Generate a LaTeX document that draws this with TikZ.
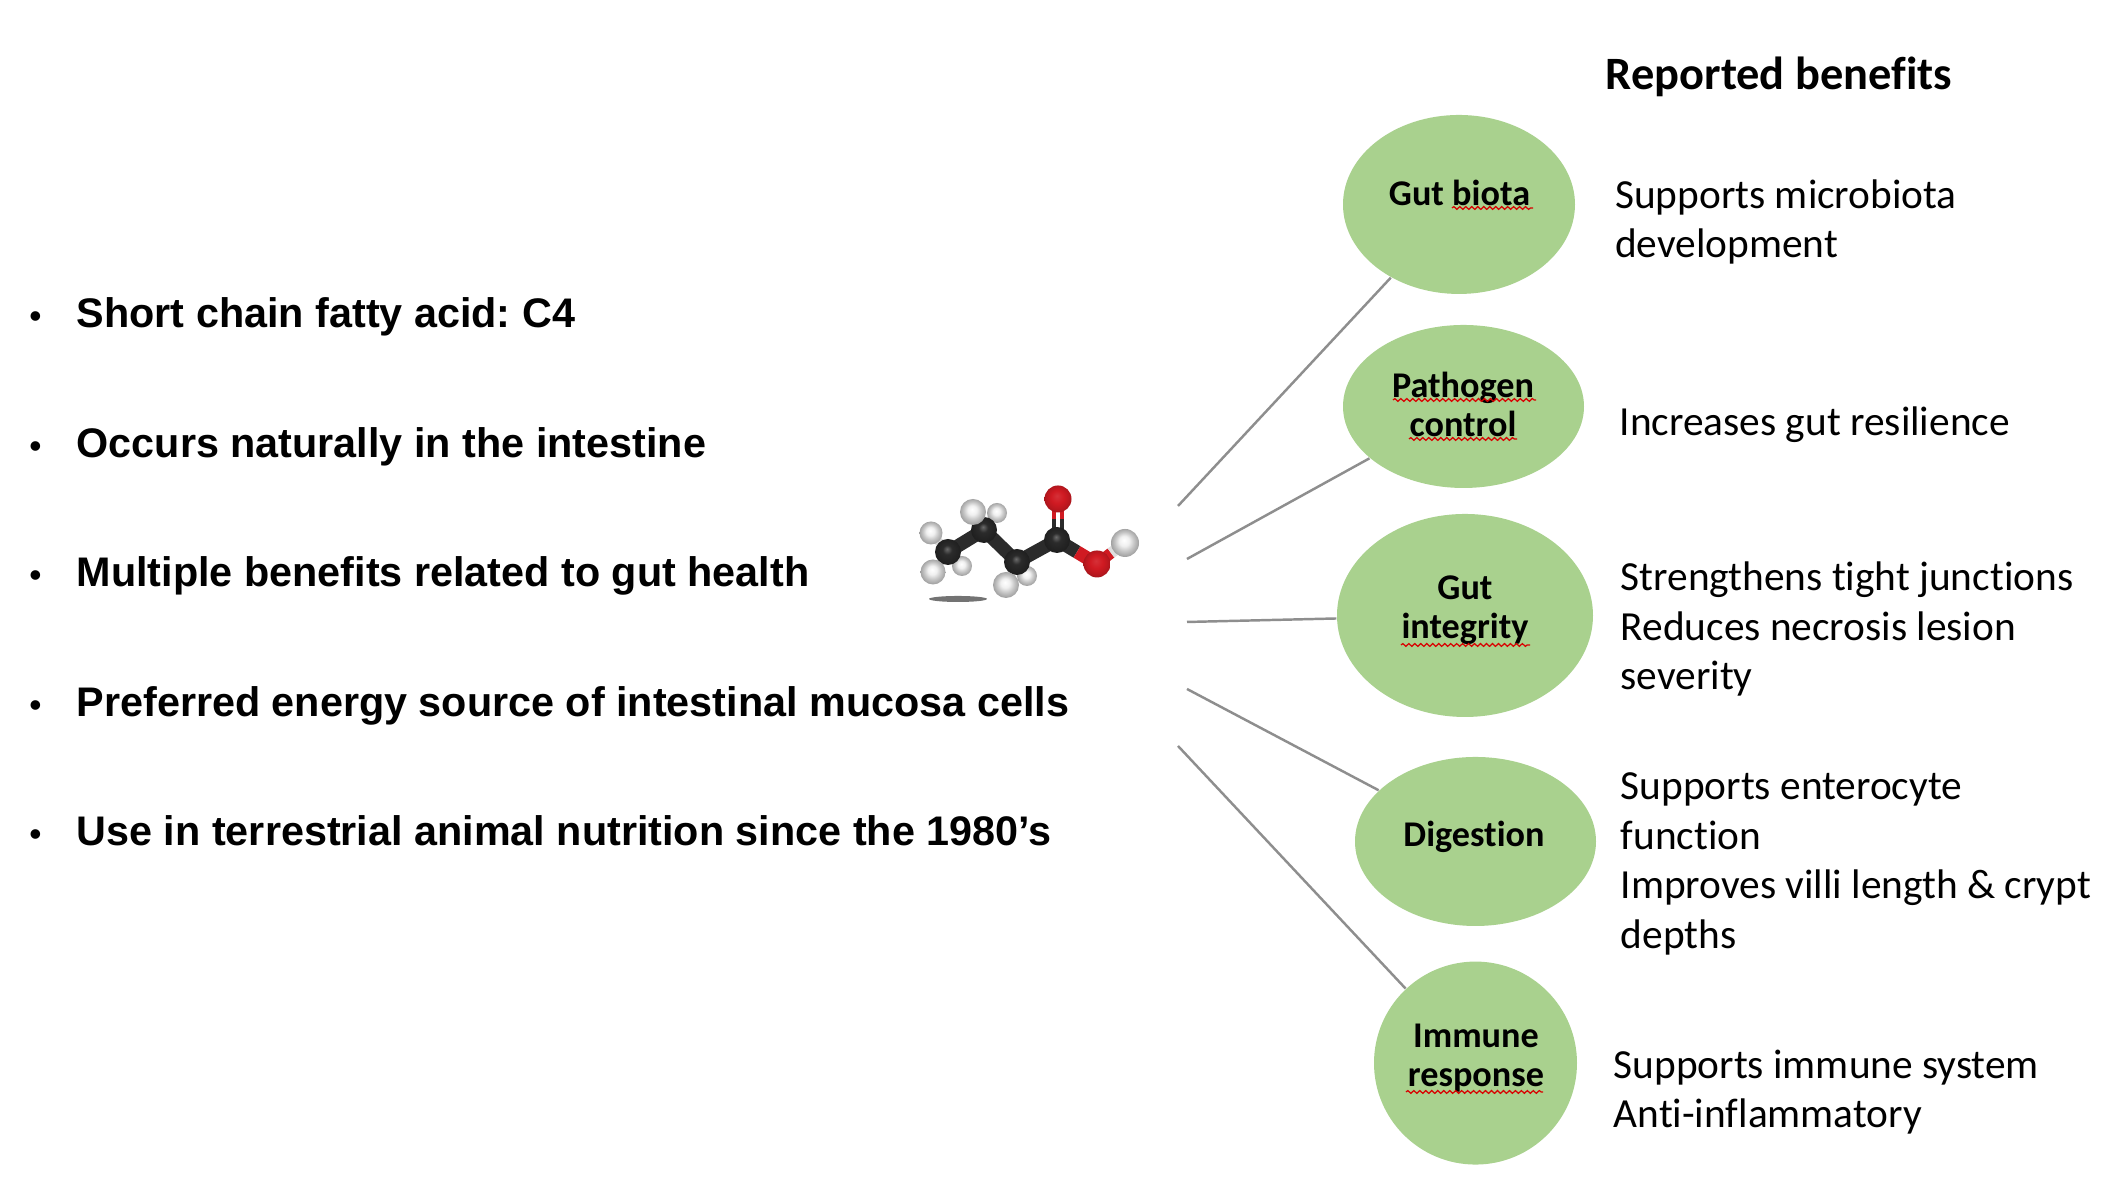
\documentclass[tikz,border=0pt]{standalone}
\usepackage{fontspec}
\setmainfont{Carlito}[Ligatures=NoCommon]
\newfontfamily\factfont{Liberation Sans}
\usetikzlibrary{shapes.geometric,decorations.pathmorphing}
\definecolor{benefitgreen}{HTML}{A9D18E}
\definecolor{linkgray}{HTML}{8E8E8E}
\definecolor{carbon}{HTML}{2B2B2B}
\definecolor{oxygen}{HTML}{D01A22}
\pgfdeclareradialshading{hball}{\pgfpoint{-2bp}{5bp}}{color(0bp)=(white); color(9bp)=(white!94!black); color(17bp)=(gray!45); color(24bp)=(gray!70); color(32bp)=(gray)}
\pgfdeclareradialshading{oball}{\pgfpoint{-2bp}{6bp}}{color(0bp)=(oxygen!90!white); color(12bp)=(oxygen); color(22bp)=(oxygen!88!black); color(32bp)=(oxygen!65!black)}
\pgfdeclareradialshading{cball}{\pgfpoint{-2bp}{6bp}}{color(0bp)=(black!58); color(9bp)=(carbon); color(32bp)=(black!90)}
\tikzset{
 benefit/.style={ellipse,fill=benefitgreen,inner sep=0pt},
 tag/.style={align=center,inner sep=0pt,font=\fontsize{10.3}{11.2}\selectfont\bfseries},
 effect/.style={anchor=west,align=left,inner sep=0pt,font=\fontsize{11.77}{14.05}\selectfont},
 fact/.style={anchor=base west,inner sep=0pt,font=\factfont\fontsize{11.76}{13}\selectfont\bfseries},
 link/.style={draw=linkgray,line width=0.7pt},
 squiggle/.style={draw=red!85!black,line width=0.35pt,decorate,decoration={snake,amplitude=0.4pt,segment length=1.7pt}}
}
\begin{document}
\frenchspacing
\begin{tikzpicture}
 \useasboundingbox (0,0) rectangle (21.26,12.02);

 \foreach \y/\txt [count=\i] in {8.74/Short chain fatty acid: C4,7.446/Occurs naturally in the intestine,6.15/Multiple benefits related to gut health,4.85/Preferred energy source of intestinal mucosa cells,3.56/Use in terrestrial animal nutrition since the 1980’s}
  \node[fact] (fact\i) at (0.29,\y) {\makebox[0.47cm][l]{\fontsize{9.5}{13}\selectfont•}\txt};

 % molecule
 \fill[black!55] (9.58,6.03) ellipse (0.29 and 0.03);
 \foreach \x/\y/\r in {9.97/6.89/0.10,9.62/6.36/0.10,10.27/6.26/0.10}
  \shade[shading=hball] (\x,\y) circle (\r);
 \draw[line width=2.4pt,gray!30] (9.48,6.50) -- (9.31,6.69) (9.48,6.50) -- (9.33,6.30) (9.84,6.72) -- (9.73,6.90) (10.17,6.40) -- (10.06,6.17);
 \draw[line width=3.8pt,carbon] (9.48,6.50) -- (9.84,6.72) -- (10.17,6.40) -- (10.57,6.62);
 \draw[line width=3.8pt,carbon] (10.57,6.62) -- (10.77,6.50);
 \draw[line width=3.8pt,oxygen] (10.77,6.50) -- (10.97,6.38);
 \draw[line width=1.3pt,carbon] (10.54,6.62) -- (10.54,6.83) (10.62,6.62) -- (10.62,6.83);
 \draw[line width=1.3pt,oxygen] (10.54,6.83) -- (10.54,7.03) (10.62,6.83) -- (10.62,7.03);
 \draw[line width=3.2pt,oxygen] (10.97,6.38) -- (11.11,6.49);
 \draw[line width=3.2pt,gray!25] (11.11,6.49) -- (11.25,6.59);
 \foreach \x/\y in {9.48/6.50,9.84/6.72,10.17/6.40,10.57/6.62}
  \shade[shading=cball] (\x,\y) circle (0.13);
 \foreach \x/\y in {10.58/7.03,10.97/6.38}
  \shade[shading=oball] (\x,\y) circle (0.135);
 \foreach \x/\y/\r in {9.31/6.69/0.115,9.33/6.30/0.125,9.73/6.90/0.13,10.06/6.17/0.13,11.25/6.59/0.14}
  \shade[shading=hball] (\x,\y) circle (\r);

 % benefits
 \node[benefit,minimum width=2.32cm,minimum height=1.79cm] (biota) at (14.59,9.975) {};
 \node[benefit,minimum width=2.41cm,minimum height=1.63cm] (pathogen) at (14.635,7.955) {};
 \node[benefit,minimum width=2.56cm,minimum height=2.03cm] (integrity) at (14.65,5.865) {};
 \node[benefit,minimum width=2.41cm,minimum height=1.69cm] (digestion) at (14.755,3.605) {};
 \node[benefit,minimum width=2.03cm,minimum height=2.03cm] (immune) at (14.755,1.389) {};

 \coordinate (from1) at (11.78,6.96);
 \coordinate (from2) at (11.87,6.43);
 \coordinate (from3) at (11.87,5.80);
 \coordinate (from4) at (11.87,5.13);
 \coordinate (from5) at (11.78,4.56);
 \draw[link] (from1) -- (biota);
 \draw[link] (from2) -- (pathogen);
 \draw[link] (from3) -- (integrity);
 \draw[link] (from4) -- (digestion);
 \draw[link] (from5) -- (immune);

 \node[tag] (biotatag) at (14.595,10.095) {Gut biota};
 \node[tag] (pathogentag) at (14.63,7.975) {Pathogen\\control};
 \node[tag] (integritytag) at (14.65,5.915) {Gut\\integrity};
 \node[tag] (digestiontag) at (14.74,3.65) {Digestion};
 \node[tag] (immunetag) at (14.76,1.44) {Immune\\response};

 \draw[squiggle] (14.52,9.94) -- (15.33,9.94);
 \draw[squiggle] (13.93,8.02) -- (15.36,8.02);
 \draw[squiggle] (14.09,7.63) -- (15.17,7.63);
 \draw[squiggle] (14.01,5.57) -- (15.30,5.57);
 \draw[squiggle] (14.06,1.10) -- (15.43,1.10);

 \node[inner sep=0pt,font=\fontsize{13.2}{15}\selectfont\bfseries] (title) at (17.79,11.25) {Reported benefits};
 \node[effect] (effect1) at (16.145,9.80) {Supports microbiota\\development};
 \node[effect] (effect2) at (16.19,7.77) {Increases gut resilience};
 \node[effect] (effect3) at (16.20,5.73) {Strengthens tight junctions\\Reduces necrosis lesion\\severity};
 \node[effect] (effect4) at (16.20,3.38) {Supports enterocyte\\function\\Improves villi length \& crypt\\depths};
 \node[effect] (effect5) at (16.13,1.10) {Supports immune system\\Anti-inflammatory};
\end{tikzpicture}
\end{document}
